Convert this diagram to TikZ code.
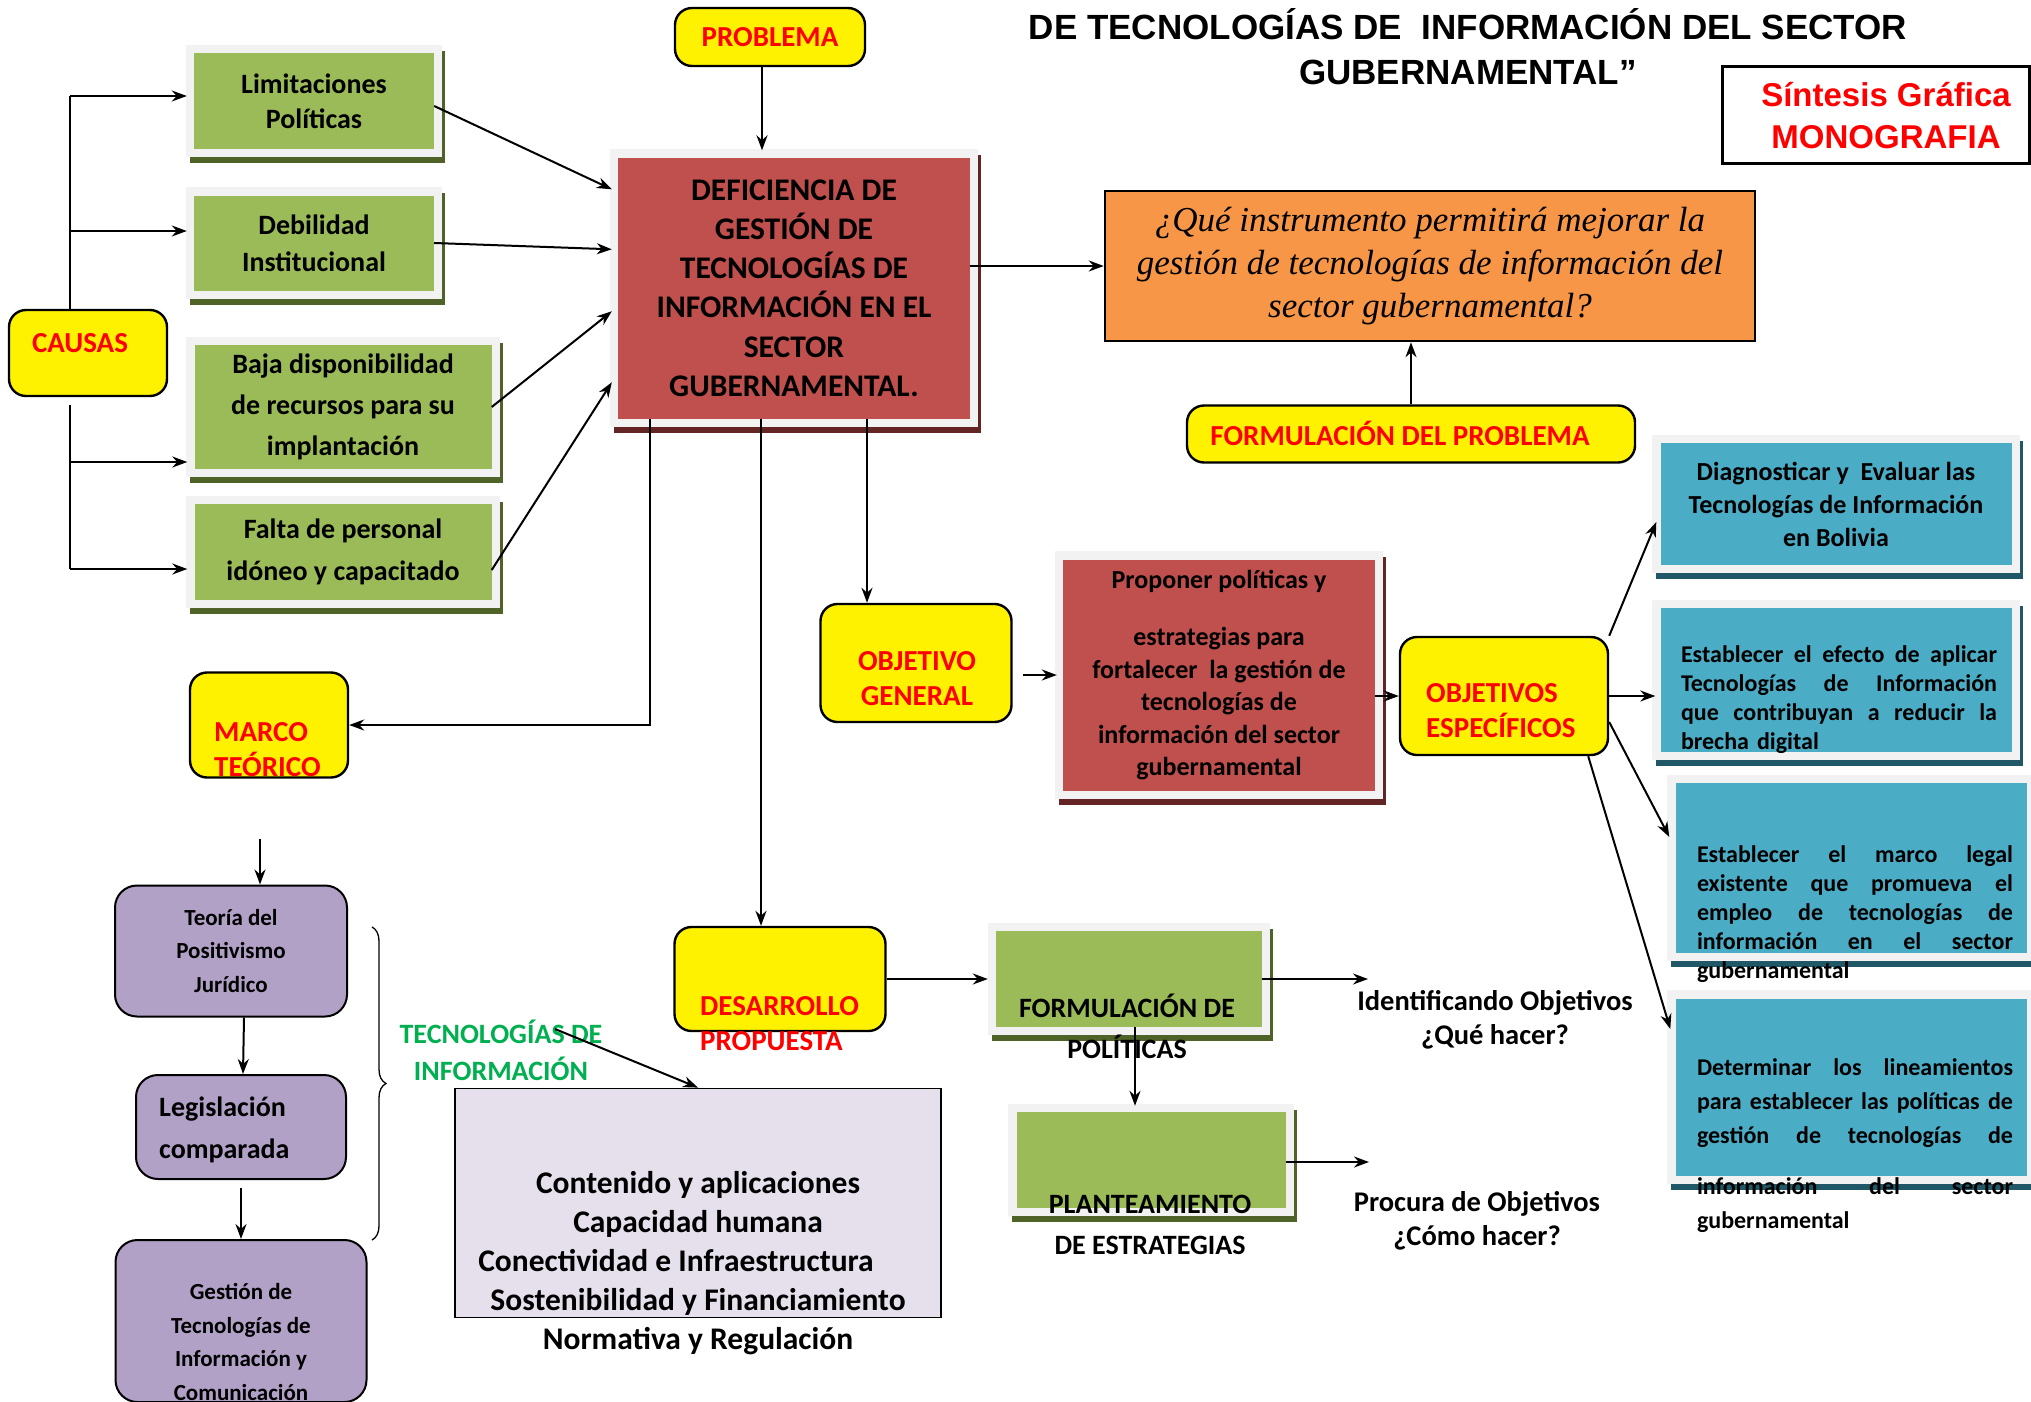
\documentclass[tikz,border=0pt]{standalone}
\usepackage{fontspec}
\setmainfont{Carlito}
\newfontfamily\arialf{Liberation Sans}
\newfontfamily\timesf{Liberation Serif}
\usetikzlibrary{arrows.meta,backgrounds,decorations.pathreplacing,calc}
\newcommand{\fs}[2]{\fontsize{#1}{#2}\selectfont}
\newcommand{\jl}[1]{\leavevmode\hbox to 316pt{\spaceskip=0.25em plus 1fil\relax #1}}
\definecolor{gfill}{HTML}{9BBB59}
\definecolor{gdark}{HTML}{4F6228}
\definecolor{rfill}{HTML}{C0504D}
\definecolor{rdark}{HTML}{632423}
\definecolor{bfill}{HTML}{4BACC6}
\definecolor{bdark}{HTML}{215868}
\definecolor{pfill}{HTML}{B2A1C7}
\definecolor{ofill}{HTML}{F79646}
\definecolor{lfill}{HTML}{E5E0EC}
\definecolor{frameg}{HTML}{F2F2F2}
\definecolor{tgreen}{HTML}{00B050}
\begin{document}
\begin{tikzpicture}[x=1pt,y=-1pt,
  ybox/.style={draw=black, line width=2.4pt, fill=yellow, rounded corners=17pt, inner sep=0pt},
  ytxt/.style={text=red, font=\bfseries\fs{29}{35}, align=left, inner sep=0pt},
  gbox/.style={fill=gfill, inner sep=0pt, align=center},
  rbox/.style={fill=rfill, inner sep=0pt, align=center},
  bbox/.style={fill=bfill, inner sep=0pt, align=center},
  pbox/.style={draw=black, line width=2pt, fill=pfill, rounded corners=22pt, inner sep=0pt, align=center},
  btxt/.style={inner sep=0pt, align=center},
  jtxt/.style={inner sep=0pt, text width=316pt, align=left, font=\bfseries\fs{24}{29}},
  arr/.style={-{Stealth[length=15pt,width=11pt]}, line width=2pt},
  tline/.style={line width=2pt}]
\useasboundingbox (0,0) rectangle (2031,1402);

% ---------- yellow boxes
\node[ybox, minimum width=190, minimum height=58, text=red, font=\bfseries\fs{29}{35}] (prob) at (770,37) {PROBLEMA};
\node[ybox, minimum width=158, minimum height=86] (causas) at (88,353) {};
\node[ytxt] (causast) at (80,343) {CAUSAS};
\node[ybox, minimum width=448, minimum height=57] (formp) at (1411,434) {};
\node[ytxt] (formpt) at (1400,433) {FORMULACIÓN DEL PROBLEMA};
\node[ybox, minimum width=191, minimum height=118] (objg) at (916,663) {};
\node[ytxt, align=center] (objgt) at (917,679) {OBJETIVO\\GENERAL};
\node[ybox, minimum width=208, minimum height=118] (obje) at (1504,696) {};
\node[ytxt, anchor=west] (objet) at (1426,711) {OBJETIVOS\\ESPECÍFICOS};
\node[ybox, minimum width=158, minimum height=105] (marco) at (269,725) {};
\node[ytxt, anchor=west] (marcot) at (214,750) {MARCO\\TEÓRICO};
\node[ybox, minimum width=211, minimum height=104] (desa) at (780,979) {};
\node[ytxt, anchor=west] (desat) at (700,1024) {DESARROLLO\\PROPUESTA};

% ---------- green boxes
\node[gbox, minimum width=240, minimum height=96, font=\bfseries\fs{28}{35}] (lim) at (314,101) {Limitaciones\\Políticas};
\node[gbox, minimum width=240, minimum height=95, font=\bfseries\fs{28}{37}] (deb) at (314,243) {Debilidad\\Institucional};
\node[gbox, minimum width=297, minimum height=124, font=\bfseries\fs{28}{41}] (baja) at (343,407) {Baja disponibilidad\\de recursos para su\\implantación};
\node[gbox, minimum width=297, minimum height=96, font=\bfseries\fs{28}{42}] (falta) at (343,552) {Falta de personal\\idóneo y capacitado};
\node[gbox, minimum width=266, minimum height=96] (fpol) at (1129,979) {};
\node[btxt, font=\bfseries\fs{28}{41}] (fpolt) at (1127,1026) {FORMULACIÓN DE\\POLÍTICAS};
\node[gbox, minimum width=269, minimum height=96] (plan) at (1151,1160) {};
\node[btxt, font=\bfseries\fs{28}{41}] (plant) at (1150,1225) {PLANTEAMIENTO\\DE ESTRATEGIAS};

% ---------- red boxes
\node[rbox, minimum width=352, minimum height=261, font=\bfseries\fs{31.5}{39.2}] (main) at (794,288) {DEFICIENCIA DE\\GESTIÓN DE\\TECNOLOGÍAS DE\\INFORMACIÓN EN EL\\SECTOR\\GUBERNAMENTAL.};
\node[rbox, minimum width=312, minimum height=231, font=\bfseries\fs{26}{32.5}] (prop) at (1219,675) {Proponer políticas y\\[25pt]estrategias para\\fortalecer\ \ la gestión de\\tecnologías de\\información del sector\\gubernamental};

% ---------- question
\node[draw=black, line width=2.5pt, fill=ofill, minimum width=650, minimum height=150, inner sep=0pt, align=center, font=\timesf\itshape\fs{35}{43}] (q) at (1430,266) {¿Qué instrumento permitirá mejorar la\\gestión de tecnologías de información del\\sector gubernamental?};

% ---------- blue boxes
\node[bbox, minimum width=351, minimum height=122, font=\bfseries\fs{26}{33}] (b1) at (1836,504) {Diagnosticar y\ \ Evaluar las\\Tecnologías de Información\\en Bolivia};
\node[bbox, minimum width=351, minimum height=144] (b2) at (1836,680) {};
\node[jtxt] (b2t) at (1839,700) {\jl{Establecer el efecto de aplicar}\\\jl{Tecnologías de Información}\\\jl{que contribuyan a reducir la}\\brecha digital};
\node[bbox, minimum width=351, minimum height=170] (b3) at (1851,868) {};
\node[jtxt] (b3t) at (1855,914) {\jl{Establecer el marco legal}\\\jl{existente que promueva el}\\\jl{empleo de tecnologías de}\\\jl{información en el sector}\\gubernamental};
\node[bbox, minimum width=351, minimum height=177] (b4) at (1851,1087) {};
\node[jtxt, font=\bfseries\fs{24}{34}] (b4t) at (1855,1146) {\jl{Determinar los lineamientos}\\\jl{para establecer las políticas de}\\\jl{gestión de tecnologías de}\\[17pt]\jl{información del sector}\\gubernamental};

% ---------- purple boxes
\node[pbox, minimum width=232, minimum height=131, font=\bfseries\fs{23}{33.5}] (teo) at (231,951) {Teoría del\\Positivismo\\Jurídico};
\node[pbox, minimum width=210, minimum height=104] (leg) at (241,1127) {};
\node[btxt, anchor=west, align=left, font=\bfseries\fs{28}{42}] (legt) at (159,1130) {Legislación\\comparada};
\node[pbox, minimum width=251, minimum height=162] (ges) at (241,1321) {};
\node[btxt, font=\bfseries\fs{23}{33.5}] (gest) at (241,1342) {Gestión de\\Tecnologías de\\Información y\\Comunicación};

% ---------- lavender box
\node[draw=black, line width=1.8pt, fill=lfill, minimum width=486, minimum height=229, inner sep=0pt] (lav) at (698,1203) {};
\node[btxt, font=\bfseries\fs{31.5}{39}] (lavt) at (698,1263) {Contenido y aplicaciones\\Capacidad humana\\\leavevmode\hbox{Conectividad e Infraestructura\kern44pt}\\Sostenibilidad y Financiamiento\\Normativa y Regulación};

% ---------- free texts
\node[btxt, text=tgreen, font=\bfseries\fs{28}{37}] (tic) at (501,1050) {TECNOLOGÍAS DE\\INFORMACIÓN};
\node[btxt, font=\bfseries\fs{28.5}{34}] (ident) at (1495,1020) {Identificando Objetivos\\¿Qué hacer?};
\node[btxt, font=\bfseries\fs{28.5}{34}] (proc) at (1477,1221) {Procura de Objetivos\\¿Cómo hacer?};
\node[btxt, font=\arialf\bfseries\fs{35}{45}] (title) at (1468,47) {DE TECNOLOGÍAS DE\ \ INFORMACIÓN DEL SECTOR\\GUBERNAMENTAL”};
\node[draw=black, line width=2.5pt, minimum width=307, minimum height=97, inner sep=0pt] (sint) at (1876,115) {};
\node[btxt, text=red, font=\arialf\bfseries\fs{33}{42}] (sintt) at (1886,116) {Síntesis Gráfica\\MONOGRAFIA};

% ---------- frames and shadows
\begin{scope}[on background layer]
\fill[white] (0,0) rectangle (2031,1402);
\foreach \n/\c in {lim/gdark, deb/gdark, baja/gdark, falta/gdark, fpol/gdark, plan/gdark, main/rdark, prop/rdark, b1/bdark, b2/bdark, b3/bdark, b4/bdark} {
  \fill[\c] ([shift={(-4,-2)}]\n.north west) rectangle ([shift={(11,14)}]\n.south east);
  \fill[frameg] ([shift={(-8,-8)}]\n.north west) rectangle ([shift={(8,8)}]\n.south east);
}
\end{scope}

% ---------- coordinates
\coordinate (tA) at (70,96);
\coordinate (tB) at (70,231);
\coordinate (tC) at (70,405);
\coordinate (tD) at (70,462);
\coordinate (tE) at (70,569);
\coordinate (pA) at (762,66);
\coordinate (xA) at (650,0);
\coordinate (xB) at (867,0);
\coordinate (xC) at (761,0);
\coordinate (xD) at (1135,0);
\coordinate (iA) at (1368,979);
\coordinate (pB) at (1369,1162);
\coordinate (tF) at (260,839);
\coordinate (gA) at (555,1029);

% ---------- connectors
\draw[tline] (tA |- causas.north) -- (tA);
\draw[arr, shorten >=7pt] (tA) -- (tA -| lim.west);
\draw[arr, shorten >=7pt] (tB) -- (tB -| deb.west);
\draw[tline] (tC) -- (tE);
\draw[arr, shorten >=7pt] (tD) -- (tD -| baja.west);
\draw[arr, shorten >=7pt] (tE) -- (tE -| falta.west);

\draw[arr] ([yshift=-5pt]lim.east) -- ($(main.north west)+(-6,32)$);
\draw[arr] (deb.east) -- ($(main.north west)+(-6,92)$);
\draw[arr] (baja.east) -- ($(main.north west)+(-6,154)$);
\draw[arr] ($(falta.east)+(0,18)$) -- ($(main.north west)+(-6,225)$);

\draw[arr, shorten >=7pt] (pA) -- (pA |- main.north);
\draw[arr] (main.east |- q.west) -- (q.west);
\draw[arr] (formp.north) -- (formp.north |- q.south);

\draw[arr] (main.south -| xA) |- (marco.east);
\draw[arr] (main.south -| xB) -- (objg.north -| xB);
\draw[arr] (main.south -| xC) -- (desa.north -| xC);

\draw[arr, shorten <=10pt, shorten >=6pt] (objg.east |- prop.west) -- (prop.west);
\draw[arr] (prop.east |- obje.west) -- (obje.west);

\draw[arr] (obje.north east) -- ($(b1.west)+(-4,18)$);
\draw[arr, shorten >=5pt] (obje.east) -- (b2.west |- obje.east);
\draw[arr] ($(obje.east)+(0,26)$) -- ($(b3.west)+(-6,-31)$);
\draw[arr] ($(obje.south east)+(-21,0)$) -- ($(b4.west)+(-5,-58)$);

\draw[arr, shorten >=8pt] (desa.east) -- (desa.east -| fpol.west);
\draw[arr] (fpol.east) -- (iA);
\draw[arr, shorten >=6pt] (fpol.south -| xD) -- (plan.north -| xD);
\draw[arr] (plan.east |- pB) -- (pB);

\draw[arr] (tF) -- (tF |- teo.north);
\draw[arr] ([xshift=13pt]teo.south) -- ([xshift=2pt]leg.north);
\draw[arr] ([yshift=-8pt]leg.south) -- (ges.north);
\draw[decorate, decoration={brace, amplitude=14pt}, line width=1.3pt] (372,927) -- (372,1240);

\draw[arr] (gA) -- (lav.north);
\end{tikzpicture}
\end{document}
